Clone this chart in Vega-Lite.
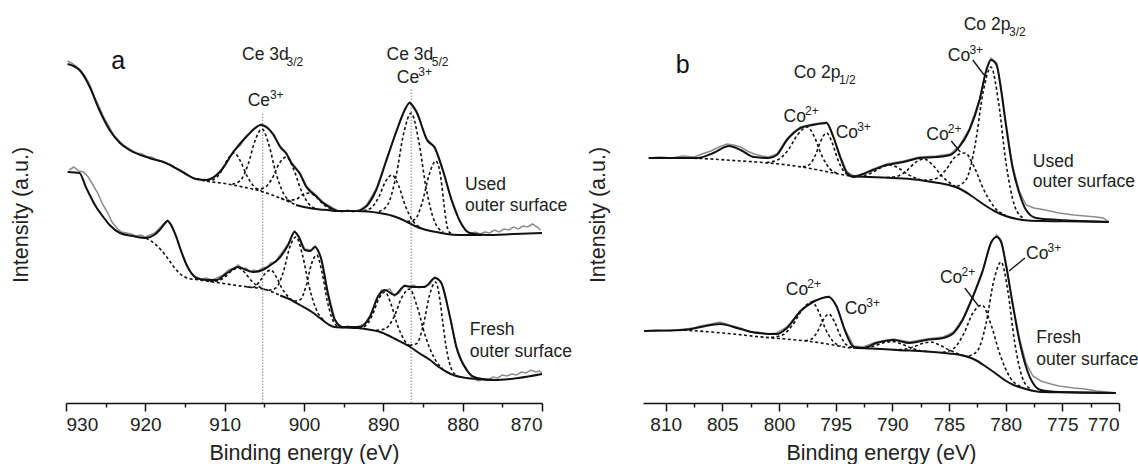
{
"$schema":"https://vega.github.io/schema/vega-lite/v6.json",
"background":"white",
"padding":{"left":10,"top":16,"right":0,"bottom":0},
"bounds":"flush",
"spacing":101,
"config":{
 "view":{"stroke":null},
 "font":"Liberation Sans",
 "axis":{"grid":false,"domainColor":"#111","domainWidth":1.6,"tickColor":"#111","tickWidth":1.5,"labelFont":"Liberation Sans","labelFontSize":19,"labelColor":"#222","labelPadding":4,"titleFont":"Liberation Sans","titleFontSize":21.5,"titleFontWeight":"normal","titleColor":"#222","titlePadding":8},
 "text":{"font":"Liberation Sans","color":"#222"}
},
"datasets":{
"a_exp":[
{"s":"ue","E":929.8,"I":342},{"s":"ue","E":929.3,"I":340},{"s":"ue","E":928.8,"I":337},{"s":"ue","E":928.2,"I":333},{"s":"ue","E":927.6,"I":327},{"s":"ue","E":927.0,"I":318},{"s":"ue","E":926.4,"I":306},{"s":"ue","E":925.8,"I":296},{"s":"ue","E":925.2,"I":285},{"s":"ue","E":924.6,"I":277},{"s":"ue","E":924.0,"I":268},{"s":"ue","E":923.4,"I":263},{"s":"ue","E":922.8,"I":258},{"s":"ue","E":922.2,"I":255},{"s":"ue","E":921.6,"I":252},{"s":"ue","E":921.0,"I":250},{"s":"ue","E":920.4,"I":249},{"s":"ue","E":919.8,"I":246},{"s":"ue","E":919.2,"I":246},{"s":"ue","E":918.6,"I":243},{"s":"ue","E":918.0,"I":242},{"s":"ue","E":917.4,"I":240},{"s":"ue","E":916.8,"I":238},{"s":"ue","E":916.2,"I":235},{"s":"ue","E":915.6,"I":233},{"s":"ue","E":915.0,"I":229},{"s":"ue","E":914.4,"I":227},{"s":"ue","E":913.8,"I":224},{"s":"ue","E":913.2,"I":224},{"s":"ue","E":912.6,"I":222},{"s":"ue","E":912.0,"I":224},{"s":"ue","E":911.4,"I":226},{"s":"ue","E":910.6,"I":232},{"s":"ue","E":909.8,"I":240},{"s":"ue","E":908.9,"I":252},{"s":"ue","E":908.0,"I":258},{"s":"ue","E":907.3,"I":267},{"s":"ue","E":906.4,"I":273},{"s":"ue","E":905.4,"I":279},{"s":"ue","E":904.6,"I":276},{"s":"ue","E":903.9,"I":268},{"s":"ue","E":903.0,"I":257},{"s":"ue","E":902.2,"I":250},{"s":"ue","E":901.6,"I":241},{"s":"ue","E":900.5,"I":230},{"s":"ue","E":899.7,"I":217},{"s":"ue","E":898.5,"I":208},{"s":"ue","E":897.6,"I":201},{"s":"ue","E":896.6,"I":196},{"s":"ue","E":895.9,"I":193},{"s":"ue","E":895.2,"I":191},{"s":"ue","E":894.5,"I":193},{"s":"ue","E":893.8,"I":191},{"s":"ue","E":893.0,"I":193},{"s":"ue","E":892.1,"I":198},{"s":"ue","E":890.9,"I":214},{"s":"ue","E":889.6,"I":244},{"s":"ue","E":888.3,"I":272},{"s":"ue","E":887.3,"I":294},{"s":"ue","E":886.7,"I":301},{"s":"ue","E":885.8,"I":290},{"s":"ue","E":884.5,"I":264},{"s":"ue","E":883.5,"I":256},{"s":"ue","E":882.5,"I":232},{"s":"ue","E":881.4,"I":204},{"s":"ue","E":880.3,"I":181},{"s":"ue","E":879.6,"I":172},{"s":"ue","E":879.0,"I":169},{"s":"ue","E":878.4,"I":171},{"s":"ue","E":877.8,"I":169},{"s":"ue","E":877.2,"I":171},{"s":"ue","E":876.6,"I":170},{"s":"ue","E":876.0,"I":173},{"s":"ue","E":875.4,"I":171},{"s":"ue","E":874.8,"I":174},{"s":"ue","E":874.2,"I":173},{"s":"ue","E":873.6,"I":176},{"s":"ue","E":873.0,"I":174},{"s":"ue","E":872.4,"I":177},{"s":"ue","E":871.8,"I":176},{"s":"ue","E":871.2,"I":179},{"s":"ue","E":870.6,"I":176},{"s":"ue","E":870.2,"I":173},
{"s":"fe","E":929.6,"I":233},{"s":"fe","E":929.0,"I":236},{"s":"fe","E":928.4,"I":232},{"s":"fe","E":927.8,"I":231},{"s":"fe","E":927.2,"I":226},{"s":"fe","E":926.6,"I":218},{"s":"fe","E":926.0,"I":210},{"s":"fe","E":925.4,"I":199},{"s":"fe","E":924.8,"I":191},{"s":"fe","E":924.2,"I":181},{"s":"fe","E":923.6,"I":175},{"s":"fe","E":923.0,"I":171},{"s":"fe","E":922.4,"I":170},{"s":"fe","E":921.8,"I":169},{"s":"fe","E":921.2,"I":167},{"s":"fe","E":920.6,"I":168},{"s":"fe","E":920.0,"I":166},{"s":"fe","E":919.4,"I":168},{"s":"fe","E":918.8,"I":170},{"s":"fe","E":918.2,"I":175},{"s":"fe","E":917.6,"I":180},{"s":"fe","E":917.2,"I":183},{"s":"fe","E":916.7,"I":178},{"s":"fe","E":916.1,"I":167},{"s":"fe","E":915.5,"I":153},{"s":"fe","E":914.8,"I":139},{"s":"fe","E":914.2,"I":129},{"s":"fe","E":913.6,"I":126},{"s":"fe","E":913.0,"I":124},{"s":"fe","E":912.3,"I":125},{"s":"fe","E":911.6,"I":123},{"s":"fe","E":911.0,"I":125},{"s":"fe","E":910.2,"I":128},{"s":"fe","E":909.5,"I":133},{"s":"fe","E":908.8,"I":135},{"s":"fe","E":908.3,"I":138},{"s":"fe","E":907.7,"I":134},{"s":"fe","E":907.3,"I":135},{"s":"fe","E":906.8,"I":131},{"s":"fe","E":906.4,"I":133},{"s":"fe","E":905.8,"I":132},{"s":"fe","E":905.2,"I":135},{"s":"fe","E":904.6,"I":136},{"s":"fe","E":904.2,"I":140},{"s":"fe","E":903.6,"I":141},{"s":"fe","E":903.1,"I":147},{"s":"fe","E":902.0,"I":159},{"s":"fe","E":901.2,"I":172},{"s":"fe","E":900.6,"I":166},{"s":"fe","E":899.9,"I":154},{"s":"fe","E":899.2,"I":153},{"s":"fe","E":898.6,"I":157},{"s":"fe","E":898.2,"I":151},{"s":"fe","E":897.8,"I":144},{"s":"fe","E":897.0,"I":111},{"s":"fe","E":896.1,"I":84},{"s":"fe","E":895.6,"I":77},{"s":"fe","E":895.1,"I":75},{"s":"fe","E":894.5,"I":77},{"s":"fe","E":893.8,"I":75},{"s":"fe","E":893.0,"I":77},{"s":"fe","E":892.4,"I":79},{"s":"fe","E":891.7,"I":87},{"s":"fe","E":890.7,"I":107},{"s":"fe","E":890.2,"I":113},{"s":"fe","E":889.8,"I":112},{"s":"fe","E":889.2,"I":114},{"s":"fe","E":888.6,"I":107},{"s":"fe","E":888.0,"I":110},{"s":"fe","E":887.3,"I":118},{"s":"fe","E":886.7,"I":116},{"s":"fe","E":886.2,"I":118},{"s":"fe","E":885.5,"I":115},{"s":"fe","E":884.8,"I":117},{"s":"fe","E":884.1,"I":119},{"s":"fe","E":883.5,"I":126},{"s":"fe","E":882.7,"I":121},{"s":"fe","E":881.6,"I":87},{"s":"fe","E":880.8,"I":57},{"s":"fe","E":880.1,"I":42},{"s":"fe","E":879.5,"I":34},{"s":"fe","E":878.9,"I":26},{"s":"fe","E":878.5,"I":24},{"s":"fe","E":878.0,"I":22},{"s":"fe","E":877.4,"I":24},{"s":"fe","E":876.8,"I":23},{"s":"fe","E":876.2,"I":26},{"s":"fe","E":875.6,"I":25},{"s":"fe","E":875.0,"I":28},{"s":"fe","E":874.4,"I":27},{"s":"fe","E":873.8,"I":29},{"s":"fe","E":873.2,"I":28},{"s":"fe","E":872.6,"I":31},{"s":"fe","E":872.0,"I":30},{"s":"fe","E":871.4,"I":33},{"s":"fe","E":870.8,"I":31},{"s":"fe","E":870.3,"I":32},{"s":"fe","E":870.0,"I":30}
],
"a_fit":[
{"s":"uf","E":929.8,"I":339},{"s":"uf","E":928.3,"I":333},{"s":"uf","E":927.0,"I":316},{"s":"uf","E":925.8,"I":293},{"s":"uf","E":924.5,"I":273},{"s":"uf","E":923.2,"I":260},{"s":"uf","E":922.0,"I":253},{"s":"uf","E":919.5,"I":245},{"s":"uf","E":917.4,"I":240},{"s":"uf","E":915.3,"I":231},{"s":"uf","E":913.6,"I":224},{"s":"uf","E":912.3,"I":223},{"s":"uf","E":910.6,"I":231},{"s":"uf","E":908.9,"I":251},{"s":"uf","E":907.3,"I":266},{"s":"uf","E":905.4,"I":278},{"s":"uf","E":904.6,"I":275},{"s":"uf","E":903.9,"I":269},{"s":"uf","E":903.0,"I":256},{"s":"uf","E":902.2,"I":249},{"s":"uf","E":901.6,"I":240},{"s":"uf","E":900.5,"I":229},{"s":"uf","E":899.7,"I":216},{"s":"uf","E":898.5,"I":207},{"s":"uf","E":897.6,"I":200},{"s":"uf","E":896.6,"I":195},{"s":"uf","E":895.9,"I":192},{"s":"uf","E":893.4,"I":192},{"s":"uf","E":892.6,"I":194},{"s":"uf","E":892.1,"I":197},{"s":"uf","E":890.9,"I":213},{"s":"uf","E":889.6,"I":243},{"s":"uf","E":888.3,"I":273},{"s":"uf","E":887.3,"I":293},{"s":"uf","E":886.7,"I":300},{"s":"uf","E":885.8,"I":291},{"s":"uf","E":884.5,"I":263},{"s":"uf","E":883.5,"I":255},{"s":"uf","E":882.5,"I":233},{"s":"uf","E":881.4,"I":203},{"s":"uf","E":880.3,"I":181},{"s":"uf","E":879.1,"I":170},{"s":"uf","E":877.0,"I":168},{"s":"uf","E":873.5,"I":169},{"s":"uf","E":870.0,"I":170},
{"s":"ubgs","E":901,"I":198},{"s":"ubgs","E":900,"I":196},{"s":"ubgs","E":899,"I":194.5},{"s":"ubgs","E":898,"I":193.5},{"s":"ubgs","E":897,"I":193},{"s":"ubgs","E":895.9,"I":192},{"s":"ubgs","E":893.4,"I":192},{"s":"ubgs","E":892,"I":191.5},{"s":"ubgs","E":890.5,"I":190},{"s":"ubgs","E":889,"I":187.5},{"s":"ubgs","E":888,"I":184.7},{"s":"ubgs","E":887,"I":181},{"s":"ubgs","E":886,"I":177},{"s":"ubgs","E":885,"I":174},{"s":"ubgs","E":884,"I":172},{"s":"ubgs","E":883,"I":170.5},{"s":"ubgs","E":882,"I":169},{"s":"ubgs","E":880.5,"I":168},{"s":"ubgs","E":879,"I":168},{"s":"ubgs","E":877.5,"I":168},
{"s":"ff","E":929.8,"I":231},{"s":"ff","E":928.3,"I":230},{"s":"ff","E":927.5,"I":216},{"s":"ff","E":926.2,"I":196},{"s":"ff","E":925.3,"I":186},{"s":"ff","E":924.5,"I":178},{"s":"ff","E":923.2,"I":170},{"s":"ff","E":921.6,"I":167},{"s":"ff","E":919.9,"I":165},{"s":"ff","E":918.9,"I":168},{"s":"ff","E":918.2,"I":173},{"s":"ff","E":917.6,"I":179},{"s":"ff","E":917.2,"I":182},{"s":"ff","E":916.7,"I":177},{"s":"ff","E":916.1,"I":166},{"s":"ff","E":915.5,"I":152},{"s":"ff","E":914.8,"I":138},{"s":"ff","E":914.2,"I":130},{"s":"ff","E":913.6,"I":125},{"s":"ff","E":912.3,"I":123},{"s":"ff","E":911.0,"I":123},{"s":"ff","E":910.2,"I":127},{"s":"ff","E":909.5,"I":131},{"s":"ff","E":908.3,"I":136},{"s":"ff","E":907.3,"I":133},{"s":"ff","E":906.4,"I":131},{"s":"ff","E":905.2,"I":133},{"s":"ff","E":904.2,"I":138},{"s":"ff","E":903.1,"I":145},{"s":"ff","E":902.0,"I":158},{"s":"ff","E":901.2,"I":171},{"s":"ff","E":900.6,"I":165},{"s":"ff","E":899.9,"I":153},{"s":"ff","E":899.2,"I":152},{"s":"ff","E":898.6,"I":156},{"s":"ff","E":898.2,"I":152},{"s":"ff","E":897.8,"I":143},{"s":"ff","E":897.0,"I":110},{"s":"ff","E":896.1,"I":83},{"s":"ff","E":895.1,"I":76},{"s":"ff","E":893.0,"I":76},{"s":"ff","E":891.7,"I":86},{"s":"ff","E":890.7,"I":106},{"s":"ff","E":889.8,"I":113},{"s":"ff","E":888.6,"I":108},{"s":"ff","E":887.3,"I":117},{"s":"ff","E":886.2,"I":116},{"s":"ff","E":884.8,"I":116},{"s":"ff","E":883.5,"I":125},{"s":"ff","E":882.7,"I":120},{"s":"ff","E":881.6,"I":86},{"s":"ff","E":880.8,"I":56},{"s":"ff","E":879.5,"I":33},{"s":"ff","E":878.2,"I":25},{"s":"ff","E":876.1,"I":23},{"s":"ff","E":873.0,"I":25},{"s":"ff","E":870.0,"I":29},
{"s":"fbgs","E":903,"I":107.5},{"s":"fbgs","E":902,"I":104.5},{"s":"fbgs","E":900.5,"I":98},{"s":"fbgs","E":899,"I":91},{"s":"fbgs","E":898,"I":85},{"s":"fbgs","E":897,"I":79},{"s":"fbgs","E":896.2,"I":76},{"s":"fbgs","E":895,"I":75.5},{"s":"fbgs","E":893.3,"I":75},{"s":"fbgs","E":891.5,"I":73},{"s":"fbgs","E":890.4,"I":71},{"s":"fbgs","E":889.5,"I":68},{"s":"fbgs","E":888.5,"I":64},{"s":"fbgs","E":887.5,"I":60},{"s":"fbgs","E":886.6,"I":56},{"s":"fbgs","E":885.5,"I":50},{"s":"fbgs","E":884.1,"I":43},{"s":"fbgs","E":883,"I":36},{"s":"fbgs","E":882,"I":31},{"s":"fbgs","E":881,"I":27.5},{"s":"fbgs","E":879.5,"I":25},{"s":"fbgs","E":878.2,"I":24},{"s":"fbgs","E":876.1,"I":23}
],
"a_comp":[
{"s":"ubgd","E":913.6,"I":224},{"s":"ubgd","E":912,"I":221.5},{"s":"ubgd","E":910,"I":219.5},{"s":"ubgd","E":908,"I":216.5},{"s":"ubgd","E":906,"I":213},{"s":"ubgd","E":904,"I":208},{"s":"ubgd","E":902,"I":201.5},{"s":"ubgd","E":901,"I":198},
{"s":"u1","E":912.25,"I":222.2},{"s":"u1","E":911.33,"I":223.6},{"s":"u1","E":910.41,"I":231.9},{"s":"u1","E":909.6,"I":244},{"s":"u1","E":908.8,"I":250},{"s":"u1","E":907.995,"I":241.6},{"s":"u1","E":907.19,"I":227},{"s":"u1","E":906.27,"I":216.3},{"s":"u1","E":905.35,"I":212.4},
{"s":"u2","E":909.05,"I":218.8},{"s":"u2","E":908.05,"I":222.2},{"s":"u2","E":907.05,"I":238.5},{"s":"u2","E":906.175,"I":262.3},{"s":"u2","E":905.3,"I":274},{"s":"u2","E":904.425,"I":258.2},{"s":"u2","E":903.55,"I":230.1},{"s":"u2","E":902.55,"I":209.2},{"s":"u2","E":901.55,"I":200.7},
{"s":"u3","E":906.1,"I":213.7},{"s":"u3","E":905.06,"I":215},{"s":"u3","E":904.02,"I":224.5},{"s":"u3","E":903.11,"I":239.6},{"s":"u3","E":902.2,"I":246},{"s":"u3","E":901.29,"I":233.3},{"s":"u3","E":900.38,"I":213.2},{"s":"u3","E":899.34,"I":198.6},{"s":"u3","E":898.3,"I":194.1},
{"s":"u4","E":902.9,"I":204.9},{"s":"u4","E":901.94,"I":202.7},{"s":"u4","E":900.98,"I":203.8},{"s":"u4","E":900.14,"I":208.4},{"s":"u4","E":899.3,"I":210},{"s":"u4","E":898.46,"I":205.8},{"s":"u4","E":897.62,"I":199.1},{"s":"u4","E":896.66,"I":194.2},{"s":"u4","E":895.7,"I":192.5},
{"s":"u5","E":892.5,"I":192.3},{"s":"u5","E":891.54,"I":195},{"s":"u5","E":890.58,"I":205.9},{"s":"u5","E":889.74,"I":221.2},{"s":"u5","E":888.9,"I":228},{"s":"u5","E":888.06,"I":216.9},{"s":"u5","E":887.22,"I":197.1},{"s":"u5","E":886.26,"I":181.7},{"s":"u5","E":885.3,"I":175.7},
{"s":"u6","E":890.55,"I":191.5},{"s":"u6","E":889.47,"I":198.1},{"s":"u6","E":888.39,"I":227.2},{"s":"u6","E":887.445,"I":269.3},{"s":"u6","E":886.5,"I":290},{"s":"u6","E":885.555,"I":262.8},{"s":"u6","E":884.61,"I":215.1},{"s":"u6","E":883.53,"I":181.2},{"s":"u6","E":882.45,"I":170.9},
{"s":"u7","E":887.0,"I":181.6},{"s":"u7","E":886.04,"I":183.5},{"s":"u7","E":885.08,"I":201.1},{"s":"u7","E":884.24,"I":227.9},{"s":"u7","E":883.4,"I":242},{"s":"u7","E":883.0,"I":236},{"s":"u7","E":882.7,"I":222},{"s":"u7","E":882.4,"I":202},{"s":"u7","E":882.1,"I":183},{"s":"u7","E":881.8,"I":172},{"s":"u7","E":881.4,"I":169.5},
{"s":"fbgd","E":919.9,"I":165},{"s":"fbgd","E":918.5,"I":157},{"s":"fbgd","E":917.3,"I":146},{"s":"fbgd","E":916.3,"I":135},{"s":"fbgd","E":915.6,"I":129},{"s":"fbgd","E":914.5,"I":124.5},{"s":"fbgd","E":913.6,"I":123.5},{"s":"fbgd","E":911,"I":120.5},{"s":"fbgd","E":908.9,"I":118},{"s":"fbgd","E":907,"I":116},{"s":"fbgd","E":905.1,"I":114},{"s":"fbgd","E":903,"I":107.5},
{"s":"f1","E":911.9,"I":121.6},{"s":"f1","E":910.94,"I":122},{"s":"f1","E":909.98,"I":126},{"s":"f1","E":909.14,"I":132.1},{"s":"f1","E":908.3,"I":135},{"s":"f1","E":907.46,"I":130.3},{"s":"f1","E":906.62,"I":122.2},{"s":"f1","E":905.66,"I":116.2},{"s":"f1","E":904.7,"I":113},
{"s":"f2","E":907.2,"I":116},{"s":"f2","E":906.4,"I":115.8},{"s":"f2","E":905.6,"I":121.5},{"s":"f2","E":904.9,"I":129.5},{"s":"f2","E":904.2,"I":133},{"s":"f2","E":903.5,"I":126.2},{"s":"f2","E":902.8,"I":115.1},{"s":"f2","E":902.0,"I":106.4},{"s":"f2","E":901.2,"I":101.2},
{"s":"f3","E":904.45,"I":112.6},{"s":"f3","E":903.53,"I":115.1},{"s":"f3","E":902.61,"I":131},{"s":"f3","E":901.805,"I":155.4},{"s":"f3","E":901.0,"I":166},{"s":"f3","E":900.195,"I":148.1},{"s":"f3","E":899.39,"I":117.8},{"s":"f3","E":898.47,"I":93.7},{"s":"f3","E":897.55,"I":83},
{"s":"f4","E":901.25,"I":101.7},{"s":"f4","E":900.49,"I":103.3},{"s":"f4","E":899.73,"I":117.2},{"s":"f4","E":899.065,"I":138.8},{"s":"f4","E":898.4,"I":148},{"s":"f4","E":897.735,"I":130.9},{"s":"f4","E":897.07,"I":102.1},{"s":"f4","E":896.31,"I":81.8},{"s":"f4","E":895.55,"I":75.7},
{"s":"f5","E":893.1,"I":74.8},{"s":"f5","E":892.22,"I":77.4},{"s":"f5","E":891.34,"I":88.6},{"s":"f5","E":890.57,"I":104.2},{"s":"f5","E":889.8,"I":111},{"s":"f5","E":889.03,"I":99},{"s":"f5","E":888.26,"I":78.8},{"s":"f5","E":887.38,"I":63.2},{"s":"f5","E":886.5,"I":56},
{"s":"f6","E":890.9,"I":72.7},{"s":"f6","E":889.78,"I":74.1},{"s":"f6","E":888.66,"I":86},{"s":"f6","E":887.68,"I":105.4},{"s":"f6","E":886.7,"I":114},{"s":"f6","E":885.72,"I":96},{"s":"f6","E":884.74,"I":67.8},{"s":"f6","E":883.62,"I":45.5},{"s":"f6","E":882.5,"I":34.1},
{"s":"f7","E":886.7,"I":57.8},{"s":"f7","E":885.82,"I":59.2},{"s":"f7","E":884.94,"I":78.5},{"s":"f7","E":884.17,"I":108.1},{"s":"f7","E":883.4,"I":121},{"s":"f7","E":882.9,"I":105},{"s":"f7","E":882.5,"I":80},{"s":"f7","E":882.1,"I":57},{"s":"f7","E":881.7,"I":41},{"s":"f7","E":881.3,"I":32},{"s":"f7","E":880.8,"I":28}
],
"a_rule":[{"E":905.2,"I":0,"I2":291},{"E":886.5,"I":0,"I2":315}],
"a_txt":[
{"E":924.3,"I":342,"text":"a","r":"big"},
{"E":907.8,"I":348,"text":"Ce 3d","r":"main"},{"E":902.2,"I":341,"text":"3/2","r":"script"},
{"E":907.1,"I":302,"text":"Ce","r":"main"},{"E":904.3,"I":308,"text":"3+","r":"script"},
{"E":889.6,"I":348,"text":"Ce 3d","r":"main"},{"E":883.9,"I":341,"text":"5/2","r":"script"},
{"E":888.3,"I":325,"text":"Ce","r":"main"},{"E":885.6,"I":331,"text":"3+","r":"script"},
{"E":879.7,"I":218,"text":"Used","r":"main"},{"E":879.7,"I":197,"text":"outer surface","r":"main"},
{"E":879.1,"I":73,"text":"Fresh","r":"main"},{"E":879.1,"I":51,"text":"outer surface","r":"main"}
],
"b_exp":[
{"s":"ube","E":811.5,"I":245},{"s":"ube","E":810.5,"I":246},{"s":"ube","E":809.5,"I":245},{"s":"ube","E":808.5,"I":247},{"s":"ube","E":807.5,"I":246},{"s":"ube","E":806.8,"I":249},{"s":"ube","E":806.0,"I":252},{"s":"ube","E":805.3,"I":256},{"s":"ube","E":804.6,"I":259},{"s":"ube","E":804.0,"I":258},{"s":"ube","E":803.4,"I":256},{"s":"ube","E":802.8,"I":252},{"s":"ube","E":802.2,"I":249},{"s":"ube","E":801.5,"I":247},{"s":"ube","E":800.9,"I":246},{"s":"ube","E":800.2,"I":249},{"s":"ube","E":799.3,"I":264},{"s":"ube","E":798.1,"I":276},{"s":"ube","E":797.0,"I":279},{"s":"ube","E":795.8,"I":281},{"s":"ube","E":795.2,"I":266},{"s":"ube","E":794.6,"I":247},{"s":"ube","E":794.0,"I":231},{"s":"ube","E":793.4,"I":227},{"s":"ube","E":792.6,"I":229},{"s":"ube","E":791.7,"I":234},{"s":"ube","E":790.5,"I":239},{"s":"ube","E":789.0,"I":242},{"s":"ube","E":787.6,"I":246},{"s":"ube","E":786.1,"I":247},{"s":"ube","E":784.9,"I":249},{"s":"ube","E":784.1,"I":257},{"s":"ube","E":783.2,"I":274},{"s":"ube","E":782.3,"I":304},{"s":"ube","E":781.7,"I":334},{"s":"ube","E":781.3,"I":345},{"s":"ube","E":780.8,"I":340},{"s":"ube","E":780.4,"I":315},{"s":"ube","E":780.0,"I":282},{"s":"ube","E":779.4,"I":238},{"s":"ube","E":778.8,"I":212},{"s":"ube","E":778.2,"I":198},{"s":"ube","E":777.5,"I":195},{"s":"ube","E":776.5,"I":193},{"s":"ube","E":775.3,"I":190},{"s":"ube","E":774.0,"I":188},{"s":"ube","E":773.0,"I":187},{"s":"ube","E":772.0,"I":186},{"s":"ube","E":771.4,"I":185},{"s":"ube","E":770.9,"I":181},
{"s":"fbe","E":811.9,"I":72},{"s":"fbe","E":810.8,"I":73},{"s":"fbe","E":809.6,"I":72},{"s":"fbe","E":808.4,"I":74},{"s":"fbe","E":807.5,"I":75},{"s":"fbe","E":806.9,"I":77},{"s":"fbe","E":806.0,"I":79},{"s":"fbe","E":805.2,"I":81},{"s":"fbe","E":804.4,"I":78},{"s":"fbe","E":803.4,"I":75},{"s":"fbe","E":802.6,"I":71},{"s":"fbe","E":801.9,"I":71},{"s":"fbe","E":801.0,"I":69},{"s":"fbe","E":800.2,"I":70},{"s":"fbe","E":799.3,"I":76},{"s":"fbe","E":798.1,"I":92},{"s":"fbe","E":797.0,"I":102},{"s":"fbe","E":795.6,"I":107},{"s":"fbe","E":794.9,"I":97},{"s":"fbe","E":794.2,"I":74},{"s":"fbe","E":793.4,"I":57},{"s":"fbe","E":792.6,"I":56},{"s":"fbe","E":791.4,"I":61},{"s":"fbe","E":789.9,"I":64},{"s":"fbe","E":788.5,"I":61},{"s":"fbe","E":787.0,"I":64},{"s":"fbe","E":785.5,"I":66},{"s":"fbe","E":784.6,"I":71},{"s":"fbe","E":783.8,"I":84},{"s":"fbe","E":782.9,"I":107},{"s":"fbe","E":782.0,"I":134},{"s":"fbe","E":781.3,"I":161},{"s":"fbe","E":780.8,"I":168},{"s":"fbe","E":780.4,"I":163},{"s":"fbe","E":780.0,"I":141},{"s":"fbe","E":779.4,"I":101},{"s":"fbe","E":778.8,"I":65},{"s":"fbe","E":778.2,"I":40},{"s":"fbe","E":777.6,"I":27},{"s":"fbe","E":776.9,"I":22},{"s":"fbe","E":776.0,"I":19},{"s":"fbe","E":775.3,"I":17},{"s":"fbe","E":774.0,"I":15},{"s":"fbe","E":773.0,"I":14},{"s":"fbe","E":772.0,"I":12},{"s":"fbe","E":771.0,"I":11},{"s":"fbe","E":770.3,"I":10}
],
"b_fit":[
{"s":"ubf","E":811.5,"I":245},{"s":"ubf","E":809.0,"I":245},{"s":"ubf","E":807.2,"I":245},{"s":"ubf","E":805.8,"I":250},{"s":"ubf","E":804.4,"I":257},{"s":"ubf","E":803.4,"I":253},{"s":"ubf","E":802.2,"I":246},{"s":"ubf","E":800.9,"I":245},{"s":"ubf","E":800.2,"I":248},{"s":"ubf","E":799.3,"I":263},{"s":"ubf","E":798.1,"I":275},{"s":"ubf","E":797.0,"I":278},{"s":"ubf","E":795.8,"I":280},{"s":"ubf","E":795.2,"I":266},{"s":"ubf","E":794.6,"I":246},{"s":"ubf","E":794.0,"I":230},{"s":"ubf","E":793.4,"I":226},{"s":"ubf","E":792.6,"I":229},{"s":"ubf","E":791.7,"I":233},{"s":"ubf","E":790.5,"I":238},{"s":"ubf","E":789.0,"I":241},{"s":"ubf","E":787.6,"I":245},{"s":"ubf","E":786.1,"I":246},{"s":"ubf","E":784.9,"I":248},{"s":"ubf","E":784.1,"I":256},{"s":"ubf","E":783.2,"I":273},{"s":"ubf","E":782.3,"I":303},{"s":"ubf","E":781.7,"I":333},{"s":"ubf","E":781.3,"I":343},{"s":"ubf","E":780.8,"I":338},{"s":"ubf","E":780.4,"I":313},{"s":"ubf","E":780.0,"I":280},{"s":"ubf","E":779.4,"I":236},{"s":"ubf","E":778.8,"I":210},{"s":"ubf","E":778.2,"I":193},{"s":"ubf","E":777.3,"I":185},{"s":"ubf","E":775.3,"I":183},{"s":"ubf","E":770.9,"I":181},
{"s":"ubbs","E":793.3,"I":226.5},{"s":"ubbs","E":792,"I":226},{"s":"ubbs","E":790,"I":225},{"s":"ubbs","E":788,"I":223.5},{"s":"ubbs","E":786.5,"I":221},{"s":"ubbs","E":785,"I":218},{"s":"ubbs","E":784,"I":214},{"s":"ubbs","E":783,"I":207},{"s":"ubbs","E":782,"I":199},{"s":"ubbs","E":781,"I":192},{"s":"ubbs","E":780,"I":187},{"s":"ubbs","E":779,"I":184},{"s":"ubbs","E":778,"I":182.5},{"s":"ubbs","E":776.8,"I":182},{"s":"ubbs","E":773,"I":181.5},{"s":"ubbs","E":770.9,"I":181},
{"s":"fbf","E":811.9,"I":72},{"s":"fbf","E":808.4,"I":73},{"s":"fbf","E":806.9,"I":76},{"s":"fbf","E":805.2,"I":79},{"s":"fbf","E":803.4,"I":74},{"s":"fbf","E":801.9,"I":70},{"s":"fbf","E":800.2,"I":69},{"s":"fbf","E":799.3,"I":75},{"s":"fbf","E":798.1,"I":92},{"s":"fbf","E":797.0,"I":101},{"s":"fbf","E":795.6,"I":106},{"s":"fbf","E":794.9,"I":96},{"s":"fbf","E":794.2,"I":73},{"s":"fbf","E":793.4,"I":56},{"s":"fbf","E":792.6,"I":55},{"s":"fbf","E":791.4,"I":60},{"s":"fbf","E":789.9,"I":63},{"s":"fbf","E":788.5,"I":60},{"s":"fbf","E":787.0,"I":63},{"s":"fbf","E":785.5,"I":65},{"s":"fbf","E":784.6,"I":70},{"s":"fbf","E":783.8,"I":83},{"s":"fbf","E":782.9,"I":106},{"s":"fbf","E":782.0,"I":133},{"s":"fbf","E":781.3,"I":160},{"s":"fbf","E":780.8,"I":166},{"s":"fbf","E":780.4,"I":161},{"s":"fbf","E":780.0,"I":140},{"s":"fbf","E":779.4,"I":100},{"s":"fbf","E":778.8,"I":63},{"s":"fbf","E":778.2,"I":36},{"s":"fbf","E":777.6,"I":20},{"s":"fbf","E":776.9,"I":13},{"s":"fbf","E":775.3,"I":11},{"s":"fbf","E":770.3,"I":10},
{"s":"fbbs","E":793.2,"I":55},{"s":"fbbs","E":791,"I":54},{"s":"fbbs","E":789.6,"I":53},{"s":"fbbs","E":787,"I":51.5},{"s":"fbbs","E":785,"I":49.5},{"s":"fbbs","E":784,"I":48},{"s":"fbbs","E":783.3,"I":46},{"s":"fbbs","E":782.5,"I":42},{"s":"fbbs","E":781.7,"I":36},{"s":"fbbs","E":781,"I":30.5},{"s":"fbbs","E":780.1,"I":23},{"s":"fbbs","E":779.3,"I":18},{"s":"fbbs","E":778.5,"I":15},{"s":"fbbs","E":777.5,"I":12},{"s":"fbbs","E":776.8,"I":11},{"s":"fbbs","E":773,"I":10.5},{"s":"fbbs","E":770.3,"I":10}
],
"b_comp":[
{"s":"ubbd","E":808.0,"I":245},{"s":"ubbd","E":806,"I":244},{"s":"ubbd","E":804,"I":242.5},{"s":"ubbd","E":802,"I":241},{"s":"ubbd","E":800,"I":239},{"s":"ubbd","E":798,"I":236},{"s":"ubbd","E":796.5,"I":233},{"s":"ubbd","E":795,"I":229.5},{"s":"ubbd","E":794,"I":227.5},{"s":"ubbd","E":793.3,"I":226.5},
{"s":"ub1","E":801.1,"I":240.5},{"s":"ub1","E":800.14,"I":242.9},{"s":"ub1","E":799.18,"I":253.2},{"s":"ub1","E":798.34,"I":268.6},{"s":"ub1","E":797.5,"I":276},{"s":"ub1","E":796.87,"I":265.9},{"s":"ub1","E":796.24,"I":247.8},{"s":"ub1","E":795.52,"I":234.3},{"s":"ub1","E":794.8,"I":229.5},
{"s":"ub2","E":797.9,"I":236.2},{"s":"ub2","E":797.34,"I":238.1},{"s":"ub2","E":796.78,"I":248.1},{"s":"ub2","E":796.29,"I":262.7},{"s":"ub2","E":795.8,"I":270},{"s":"ub2","E":795.31,"I":260.4},{"s":"ub2","E":794.82,"I":243.6},{"s":"ub2","E":794.26,"I":231.4},{"s":"ub2","E":793.7,"I":227.5},
{"s":"ub3","E":793.5,"I":226.9},{"s":"ub3","E":792.62,"I":227.3},{"s":"ub3","E":791.74,"I":230.7},{"s":"ub3","E":790.97,"I":235.6},{"s":"ub3","E":790.2,"I":238},{"s":"ub3","E":789.43,"I":234.7},{"s":"ub3","E":788.66,"I":228.8},{"s":"ub3","E":787.78,"I":224.2},{"s":"ub3","E":786.9,"I":221.8},
{"s":"ub4","E":790.5,"I":225.5},{"s":"ub4","E":789.62,"I":226.6},{"s":"ub4","E":788.74,"I":232.2},{"s":"ub4","E":787.97,"I":240.5},{"s":"ub4","E":787.2,"I":244},{"s":"ub4","E":786.43,"I":237.9},{"s":"ub4","E":785.66,"I":227.4},{"s":"ub4","E":784.78,"I":219},{"s":"ub4","E":783.9,"I":213.5},
{"s":"ub5","E":787.2,"I":222.7},{"s":"ub5","E":786.24,"I":224},{"s":"ub5","E":785.28,"I":233.2},{"s":"ub5","E":784.44,"I":246.2},{"s":"ub5","E":783.6,"I":250},{"s":"ub5","E":782.76,"I":235.5},{"s":"ub5","E":781.92,"I":213},{"s":"ub5","E":780.96,"I":195.3},{"s":"ub5","E":780.0,"I":187.4},
{"s":"ub6","E":784.3,"I":216.8},{"s":"ub6","E":783.5,"I":223.1},{"s":"ub6","E":782.7,"I":257.8},{"s":"ub6","E":782.0,"I":310.1},{"s":"ub6","E":781.3,"I":336},{"s":"ub6","E":780.635,"I":301.3},{"s":"ub6","E":779.97,"I":240.1},{"s":"ub6","E":779.21,"I":197.2},{"s":"ub6","E":778.45,"I":184.8},
{"s":"fbbd","E":808.4,"I":73},{"s":"fbbd","E":806,"I":71},{"s":"fbbd","E":804,"I":69},{"s":"fbbd","E":802,"I":66.5},{"s":"fbbd","E":800,"I":64.5},{"s":"fbbd","E":798,"I":62.5},{"s":"fbbd","E":796,"I":59.5},{"s":"fbbd","E":795,"I":57.5},{"s":"fbbd","E":794,"I":55.5},{"s":"fbbd","E":793.2,"I":55},
{"s":"fb1","E":800.7,"I":65.6},{"s":"fb1","E":799.74,"I":67.8},{"s":"fb1","E":798.78,"I":78.3},{"s":"fb1","E":797.94,"I":93.6},{"s":"fb1","E":797.1,"I":101},{"s":"fb1","E":796.5,"I":91.5},{"s":"fb1","E":795.91,"I":74.3},{"s":"fb1","E":795.23,"I":61.6},{"s":"fb1","E":794.55,"I":57},
{"s":"fb2","E":797.7,"I":62.4},{"s":"fb2","E":797.14,"I":63.9},{"s":"fb2","E":796.58,"I":71.8},{"s":"fb2","E":796.09,"I":83.3},{"s":"fb2","E":795.6,"I":89},{"s":"fb2","E":795.11,"I":81.4},{"s":"fb2","E":794.62,"I":68.1},{"s":"fb2","E":794.06,"I":58.3},{"s":"fb2","E":793.5,"I":55.5},
{"s":"fb3","E":793.3,"I":55.1},{"s":"fb3","E":792.42,"I":55.3},{"s":"fb3","E":791.54,"I":57.3},{"s":"fb3","E":790.77,"I":60.2},{"s":"fb3","E":790.0,"I":61.5},{"s":"fb3","E":789.23,"I":59.2},{"s":"fb3","E":788.46,"I":55.5},{"s":"fb3","E":787.58,"I":52.5},{"s":"fb3","E":786.7,"I":51.4},
{"s":"fb4","E":789.9,"I":53.3},{"s":"fb4","E":789.02,"I":53.6},{"s":"fb4","E":788.14,"I":56},{"s":"fb4","E":787.37,"I":59.4},{"s":"fb4","E":786.6,"I":61},{"s":"fb4","E":785.83,"I":58},{"s":"fb4","E":785.06,"I":53.4},{"s":"fb4","E":784.18,"I":49.2},{"s":"fb4","E":783.3,"I":46.1},
{"s":"fb5","E":785.55,"I":50.7},{"s":"fb5","E":784.63,"I":54.1},{"s":"fb5","E":783.71,"I":69},{"s":"fb5","E":782.905,"I":89.7},{"s":"fb5","E":782.1,"I":98},{"s":"fb5","E":781.295,"I":78.3},{"s":"fb5","E":780.49,"I":48.1},{"s":"fb5","E":779.57,"I":24.9},{"s":"fb5","E":778.65,"I":16.2},
{"s":"fb6","E":783.25,"I":47.1},{"s":"fb6","E":782.49,"I":52.2},{"s":"fb6","E":781.73,"I":79.5},{"s":"fb6","E":781.065,"I":121.4},{"s":"fb6","E":780.4,"I":141},{"s":"fb6","E":779.8,"I":111.5},{"s":"fb6","E":779.21,"I":61},{"s":"fb6","E":778.53,"I":25.4},{"s":"fb6","E":777.85,"I":14.3}
],
"b_lead":[
{"E":782.9,"E2":781.9,"I":343,"I2":328},
{"E":784.8,"E2":784.0,"I":262,"I2":251},
{"E":783.6,"E2":782.4,"I":115,"I2":97},
{"E":778.3,"E2":779.7,"I":145,"I2":132}
],
"b_txt":[
{"E":809.1,"I":338,"text":"b","r":"big"},
{"E":798.7,"I":330,"text":"Co 2p","r":"main"},{"E":794.7,"I":323,"text":"1/2","r":"script"},
{"E":783.7,"I":378,"text":"Co 2p","r":"main"},{"E":779.7,"I":371,"text":"3/2","r":"script"},
{"E":799.6,"I":286,"text":"Co","r":"main"},{"E":797.7,"I":292,"text":"2+","r":"script"},
{"E":795.0,"I":270,"text":"Co","r":"main"},{"E":793.1,"I":276,"text":"3+","r":"script"},
{"E":787.0,"I":268,"text":"Co","r":"main"},{"E":785.1,"I":274,"text":"2+","r":"script"},
{"E":785.1,"I":347,"text":"Co","r":"main"},{"E":783.2,"I":353,"text":"3+","r":"script"},
{"E":799.4,"I":113,"text":"Co","r":"main"},{"E":797.5,"I":119,"text":"2+","r":"script"},
{"E":794.2,"I":94,"text":"Co","r":"main"},{"E":792.3,"I":100,"text":"3+","r":"script"},
{"E":785.8,"I":125,"text":"Co","r":"main"},{"E":783.9,"I":131,"text":"2+","r":"script"},
{"E":778.2,"I":149,"text":"Co","r":"main"},{"E":776.3,"I":155,"text":"3+","r":"script"},
{"E":777.6,"I":241,"text":"Used","r":"main"},{"E":777.6,"I":221,"text":"outer surface","r":"main"},
{"E":777.3,"I":65,"text":"Fresh","r":"main"},{"E":777.3,"I":43,"text":"outer surface","r":"main"}
]
},
"hconcat":[
{
"width":476,"height":377,
"encoding":{
 "x":{"field":"E","type":"quantitative","scale":{"domain":[870,930],"reverse":true,"nice":false,"zero":false},
  "axis":{"title":"Binding energy (eV)","values":[930,925,920,915,910,905,900,895,890,885,880,875,870],"labelExpr":"datum.value % 10 === 0 ? format(datum.value, 'd') : ''","tickSize":{"condition":{"test":"datum.value % 10 === 0","value":8},"value":4}}},
 "y":{"field":"I","type":"quantitative","scale":{"domain":[0,377],"nice":false,"zero":false},
  "axis":{"title":"Intensity (a.u.)","labels":false,"ticks":false,"domain":false,"titlePadding":34}}
},
"layer":[
 {"data":{"name":"a_rule"},"mark":{"type":"rule","color":"#808080","strokeWidth":1,"strokeDash":[1.5,1.5]},"encoding":{"y2":{"field":"I2"}}},
 {"data":{"name":"a_exp"},"mark":{"type":"line","color":"#8c8c8c","strokeWidth":1.5},"encoding":{"detail":{"field":"s","type":"nominal"},"order":{"field":"E","type":"quantitative","sort":"descending"}}},
 {"data":{"name":"a_comp"},"mark":{"type":"line","color":"#111","strokeWidth":1.6,"strokeDash":[3,2.5],"interpolate":"monotone"},"encoding":{"detail":{"field":"s","type":"nominal"},"order":{"field":"E","type":"quantitative","sort":"descending"}}},
 {"data":{"name":"a_fit"},"mark":{"type":"line","color":"#111","strokeWidth":2,"interpolate":"monotone"},"encoding":{"detail":{"field":"s","type":"nominal"},"order":{"field":"E","type":"quantitative","sort":"descending"}}},
 {"data":{"name":"a_txt"},"transform":[{"filter":"datum.r === 'main'"}],"mark":{"type":"text","align":"left","baseline":"middle","fontSize":17.5,"color":"#222"},"encoding":{"text":{"field":"text","type":"nominal"}}},
 {"data":{"name":"a_txt"},"transform":[{"filter":"datum.r === 'script'"}],"mark":{"type":"text","align":"left","baseline":"middle","fontSize":12,"color":"#222"},"encoding":{"text":{"field":"text","type":"nominal"}}},
 {"data":{"name":"a_txt"},"transform":[{"filter":"datum.r === 'big'"}],"mark":{"type":"text","align":"left","baseline":"middle","fontSize":25,"color":"#111"},"encoding":{"text":{"field":"text","type":"nominal"}}}
]
},
{
"width":476,"height":377,
"encoding":{
 "x":{"field":"E","type":"quantitative","scale":{"domain":[770,812],"reverse":true,"nice":false,"zero":false},
  "axis":{"title":"Binding energy (eV)","values":[810,807.5,805,802.5,800,797.5,795,792.5,790,787.5,785,782.5,780,777.5,775,772.5,770],"labelExpr":"datum.value % 5 === 0 ? format(datum.value, 'd') : ''","tickSize":{"condition":{"test":"datum.value % 5 === 0","value":8},"value":4}}},
 "y":{"field":"I","type":"quantitative","scale":{"domain":[0,377],"nice":false,"zero":false},
  "axis":{"title":"Intensity (a.u.)","labels":false,"ticks":false,"domain":false,"titlePadding":34}}
},
"layer":[
 {"data":{"name":"b_exp"},"mark":{"type":"line","color":"#8c8c8c","strokeWidth":1.5},"encoding":{"detail":{"field":"s","type":"nominal"},"order":{"field":"E","type":"quantitative","sort":"descending"}}},
 {"data":{"name":"b_comp"},"mark":{"type":"line","color":"#111","strokeWidth":1.6,"strokeDash":[3,2.5],"interpolate":"monotone"},"encoding":{"detail":{"field":"s","type":"nominal"},"order":{"field":"E","type":"quantitative","sort":"descending"}}},
 {"data":{"name":"b_fit"},"mark":{"type":"line","color":"#111","strokeWidth":2,"interpolate":"monotone"},"encoding":{"detail":{"field":"s","type":"nominal"},"order":{"field":"E","type":"quantitative","sort":"descending"}}},
 {"data":{"name":"b_lead"},"mark":{"type":"rule","color":"#111","strokeWidth":1.3},"encoding":{"x2":{"field":"E2"},"y2":{"field":"I2"}}},
 {"data":{"name":"b_txt"},"transform":[{"filter":"datum.r === 'main'"}],"mark":{"type":"text","align":"left","baseline":"middle","fontSize":17.5,"color":"#222"},"encoding":{"text":{"field":"text","type":"nominal"}}},
 {"data":{"name":"b_txt"},"transform":[{"filter":"datum.r === 'script'"}],"mark":{"type":"text","align":"left","baseline":"middle","fontSize":12,"color":"#222"},"encoding":{"text":{"field":"text","type":"nominal"}}},
 {"data":{"name":"b_txt"},"transform":[{"filter":"datum.r === 'big'"}],"mark":{"type":"text","align":"left","baseline":"middle","fontSize":25,"color":"#111"},"encoding":{"text":{"field":"text","type":"nominal"}}}
]
}
]
}
